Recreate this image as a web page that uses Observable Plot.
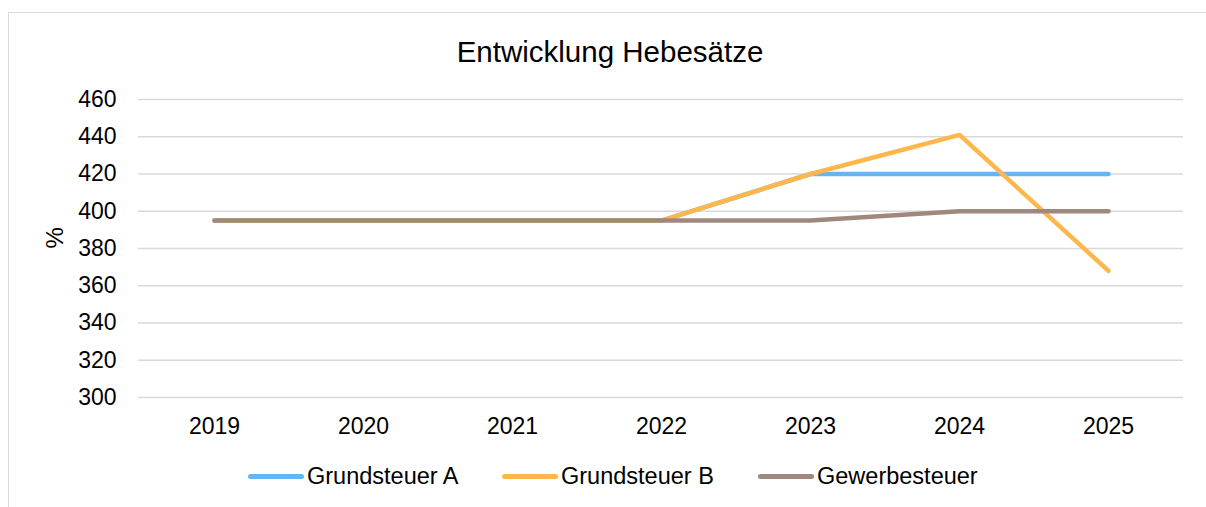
<!DOCTYPE html>
<html>
<head>
<meta charset="utf-8">
<script src="https://cdn.jsdelivr.net/npm/d3@7"></script>
<script src="https://cdn.jsdelivr.net/npm/@observablehq/plot@0.6"></script>
<style>
  html, body { margin: 0; padding: 0; background: #fff; }
  body { width: 1206px; height: 507px; overflow: hidden; position: relative;
         font-family: "Liberation Sans", Arial, sans-serif; color: #000; }
  #frame { position: absolute; left: 8px; top: 12px; width: 1220px; height: 520px;
           border: 1px solid #d9d9d9; box-sizing: border-box; }
  #title { position: absolute; left: 0; top: 36px; width: 1220px; text-align: center;
           font-size: 29.5px; line-height: 32px; }
  #chart { position: absolute; left: 0; top: 0; }
  .leg { position: absolute; top: 463px; height: 26px; display: flex; align-items: center;
         font-size: 23.5px; line-height: 26px; white-space: nowrap; }
  .sw { width: 56px; height: 5px; border-radius: 3px; margin-right: 3px; }
</style>
</head>
<body>
<div id="frame"></div>
<div id="title">Entwicklung Hebesätze</div>
<div id="chart"></div>
<div id="legend"></div>
<script>
const years = ["2019", "2020", "2021", "2022", "2023", "2024", "2025"];
const seriesNames = ["Grundsteuer A", "Grundsteuer B", "Gewerbesteuer"];
const grundsteuerA = [395, 395, 395, 395, 420, 420, 420];
const grundsteuerB = [395, 395, 395, 395, 420, 441, 368];
const gewerbesteuer = [395, 395, 395, 395, 395, 400, 400];
const colors = ["#64B5F6", "#FFB74D", "#A1887F"];
const yTicks = [300, 320, 340, 360, 380, 400, 420, 440, 460];

const seriesValues = [grundsteuerA, grundsteuerB, gewerbesteuer];
const data = [];
seriesNames.forEach((name, i) => {
  years.forEach((yr, j) => data.push({ series: name, year: yr, value: seriesValues[i][j] }));
});

const plot = Plot.plot({
  width: 1206,
  height: 507,
  marginTop: 99,
  marginBottom: 110,
  marginLeft: 138,
  marginRight: 23,
  style: { fontFamily: '"Liberation Sans", Arial, sans-serif', fontSize: "23px", color: "#000", background: "transparent" },
  x: { type: "point", domain: years, padding: 0.5, label: null, tickSize: 0, tickPadding: 20 },
  y: { domain: [300, 460], ticks: yTicks, label: null, tickSize: 0, tickPadding: 22 },
  color: { domain: seriesNames, range: colors },
  marks: [
    Plot.ruleY(yTicks, { stroke: "#d9d9d9", strokeWidth: 1.5 }),
    Plot.line(data, { x: "year", y: "value", z: "series", stroke: "series",
                      strokeWidth: 4.5, strokeLinecap: "round", strokeLinejoin: "round" }),
    Plot.text(["%"], { frameAnchor: "left", dx: -83, rotate: -90, fontSize: 24, fill: "#000" })
  ]
});
document.getElementById("chart").appendChild(plot);

const legendLefts = [248, 502, 758];
const legend = document.getElementById("legend");
seriesNames.forEach((name, i) => {
  const item = document.createElement("div");
  item.className = "leg";
  item.style.left = legendLefts[i] + "px";
  const sw = document.createElement("div");
  sw.className = "sw";
  sw.style.background = colors[i];
  const tx = document.createElement("span");
  tx.textContent = name;
  item.appendChild(sw);
  item.appendChild(tx);
  legend.appendChild(item);
});
</script>
</body>
</html>
